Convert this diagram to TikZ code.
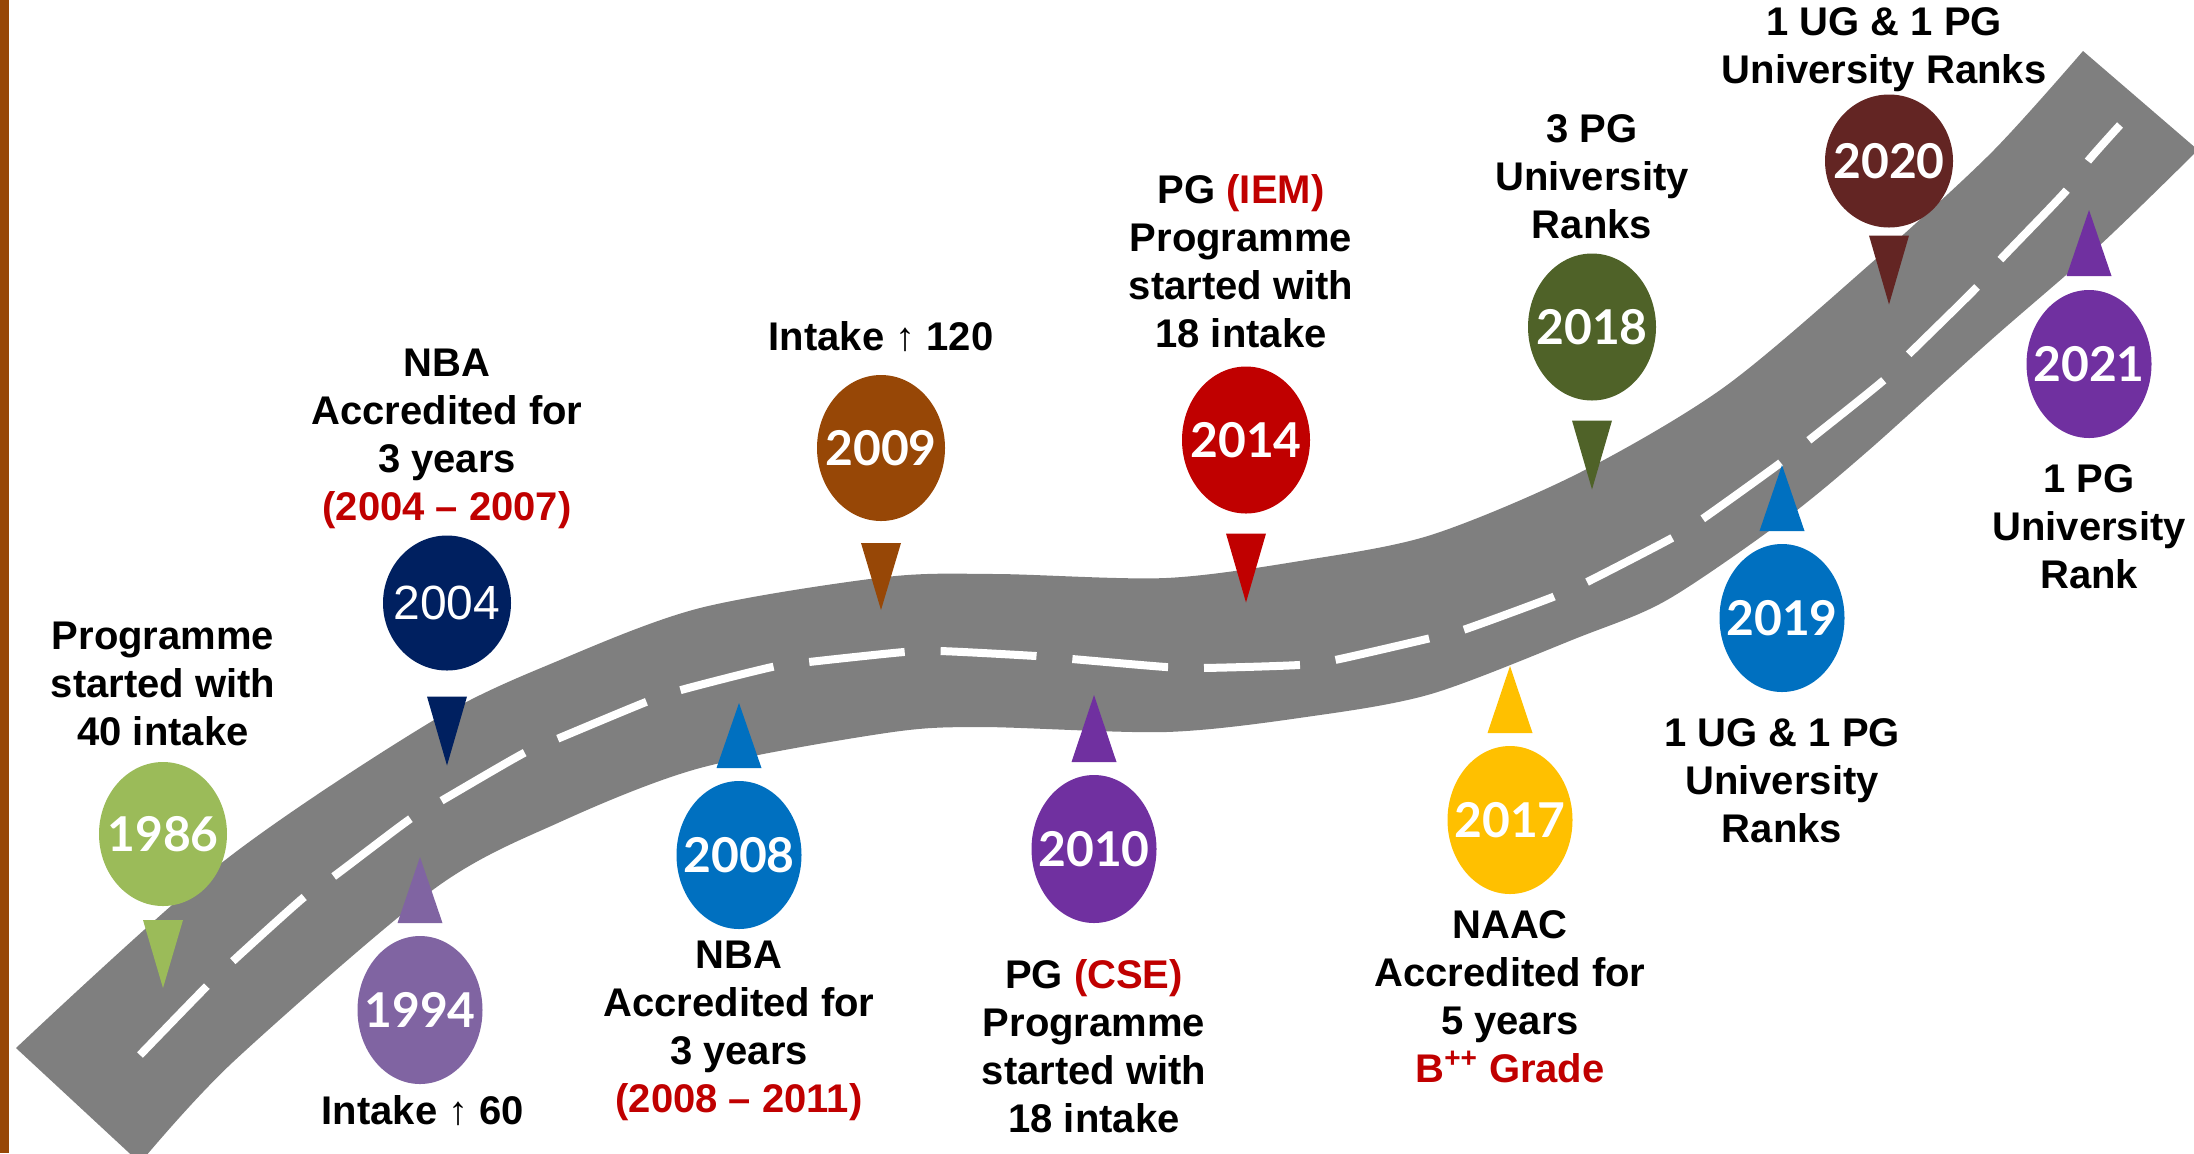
\documentclass[tikz,border=0pt]{standalone}
\usepackage{fontspec}
\setmainfont{Liberation Sans}
\newfontfamily\latofont{Lato}
\usetikzlibrary{shapes.geometric,positioning}

\definecolor{roadgray}{HTML}{7F7F7F}
\definecolor{hilite}{HTML}{C00000}
\definecolor{c1986}{HTML}{9BBB59}
\definecolor{c1994}{HTML}{8064A2}
\definecolor{c2004}{HTML}{002060}
\definecolor{c2008}{HTML}{0070C0}
\definecolor{c2009}{HTML}{974706}
\definecolor{c2010}{HTML}{7030A0}
\definecolor{c2014}{HTML}{C00000}
\definecolor{c2017}{HTML}{FFC000}
\definecolor{c2018}{HTML}{4F6228}
\definecolor{c2019}{HTML}{0070C0}
\definecolor{c2020}{HTML}{632523}
\definecolor{c2021}{HTML}{7030A0}

\begin{document}
\begin{tikzpicture}[x=0.5pt,y=-0.5pt,
    pin/.style={ellipse,fill=#1,inner sep=0pt,outer sep=0pt,minimum width=64pt},
    yr/.style={text=white,inner sep=0pt,font=\latofont\bfseries\fontsize{24}{24}\selectfont},
    note/.style={align=center,inner sep=0pt,font=\bfseries\fontsize{20}{24}\selectfont}]

    \useasboundingbox (0,0) rectangle (2194,1153);
    \fill[c2009] (0,0) rectangle (9,1153);

    % the road
    \fill[roadgray] plot[smooth] coordinates {(16,1048) (224,861) (434,720) (560,660)
      (700,608) (886,577) (996,574) (1166,578) (1306,560) (1431,535) (1577,474)
      (1723,388) (1869,265) (1991,153) (2083,51)}
      -- plot[smooth] coordinates {(2198,150) (2100,245) (1991,340) (1869,450)
      (1784,520) (1667,600) (1577,638) (1431,694) (1306,717) (1166,732) (980,727)
      (886,733) (700,768) (560,822) (434,889) (233,1062) (140,1163)} -- cycle;
    \draw[white,line width=4pt,dash pattern=on 48pt off 18pt] plot[smooth] coordinates
      {(140,1055) (205,988) (233,961) (303,898) (333,877) (410,819) (441,801) (524,753)
      (557,739) (646,702) (681,690) (772,667) (809,662) (904,652) (940,651) (1036,656)
      (1072,659) (1166,667) (1203,668) (1299,665) (1335,660) (1431,638) (1463,630)
      (1553,597) (1587,582) (1672,538) (1701,520) (1779,464) (1808,441) (1884,380)
      (1908,355) (1976,288) (2000,260) (2066,191) (2088,161) (2120,125)};

    % pins above the road
    \foreach \yr/\px/\py/\hh/\gap/\tri in {1986/163/834/72/14/68, 2009/881/448/73/22/67,
      2014/1246/440/73.5/20/69, 2018/1592/327/73.5/20/69, 2020/1889/161/66.5/8/69}
    {
      \node[pin=c\yr,minimum height=\hh pt] (p\yr) at (\px,\py) {};
      \fill[c\yr] (p\yr.south) ++(-20,\gap) -- ++(40,0) -- ++(-20,\tri) -- cycle;
      \node[yr] (t\yr) at (p\yr) {\yr};
    }
    \node[pin=c2004,minimum height=67.5pt] (p2004) at (447,603) {};
    \fill[c2004] (p2004.south) ++(-20,26) -- ++(40,0) -- ++(-20,69) -- cycle;
    \node[yr,font=\fontsize{24}{24}\selectfont] (t2004) at (p2004) {2004};

    % pins below the road
    \foreach \yr/\px/\py/\gap/\tri in {1994/420/1010/13/66, 2008/739/855/13/65,
      2010/1094/849/13/67, 2017/1510/820/13/67, 2019/1782/618/13/66, 2021/2089/364/14/66}
    {
      \node[pin=c\yr,minimum width=62.5pt,minimum height=74pt] (p\yr) at (\px,\py) {};
      \fill[c\yr] (p\yr.north) ++(-22.5,-\gap) -- ++(45,0) -- ++(-22.5,-\tri) -- cycle;
      \node[yr] (t\yr) at (p\yr) {\yr};
    }

    \node[note,above=0.8pt of p1986] (n1986) {\strut Programme\\started with\\40 intake\strut};
    \node[note,above=0pt of p2004] (n2004) {\strut NBA\\Accredited for\\3 years\\\textcolor{hilite}{(2004 – 2007)}\strut};
    \node[note,above=5pt of p2009] (n2009) {\strut Intake ↑ 120\strut};
    \node[note,above=2.3pt of p2014,xshift=-2.5pt] (n2014) {\strut PG \textcolor{hilite}{(IEM)}\\Programme\\started with\\18 intake\strut};
    \node[note,above=0.3pt of p2018] (n2018) {\strut 3 PG\\University\\Ranks\strut};
    \node[note,above=-1.7pt of p2020,xshift=-2.5pt] (n2020) {\strut 1 UG \& 1 PG\\University Ranks\strut};

    \node[note,below=3.2pt of p1994,xshift=1.5pt] (n1994) {\strut Intake ↑ 60\strut};
    \node[note,below=2.7pt of p2008] (n2008) {\strut NBA\\Accredited for\\3 years\\\textcolor{hilite}{(2008 – 2011)}\strut};
    \node[note,below=15.7pt of p2010] (n2010) {\strut PG \textcolor{hilite}{(CSE)}\\Programme\\started with\\18 intake\strut};
    \node[note,below=5.2pt of p2017] (n2017) {\strut NAAC\\Accredited for\\5 years\\\textcolor{hilite}{B\textsuperscript{++} Grade}\strut};
    \node[note,below=10.2pt of p2019] (n2019) {\strut 1 UG \& 1 PG\\University\\Ranks\strut};
    \node[note,below=10.2pt of p2021] (n2021) {\strut 1 PG\\University\\Rank\strut};
\end{tikzpicture}
\end{document}
